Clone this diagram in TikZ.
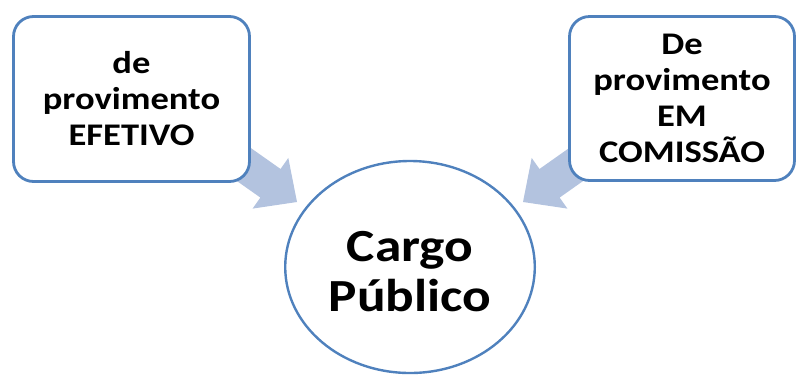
\documentclass[tikz,border=0pt]{standalone}
\usepackage{fontspec}
\setmainfont{Carlito}[FakeStretch=1.16]
\usetikzlibrary{shapes.geometric}
\definecolor{bordblue}{HTML}{4F81BD}
\definecolor{arrowblue}{HTML}{B3C3DF}
\begin{document}
\begin{tikzpicture}[x=1pt,y=-1pt,
  boxstyle/.style={draw=bordblue, line width=2.8pt, fill=white, rounded corners=20pt,
    align=center, font=\fontsize{31.5}{36}\selectfont\bfseries, inner sep=0pt},
  circstyle/.style={draw=bordblue, line width=2.4pt, fill=white, ellipse, align=center,
    font=\fontsize{46}{50}\selectfont\bfseries, inner sep=0pt},
  arrowstyle/.style={fill=arrowblue}]
\useasboundingbox (0,0) rectangle (797,376);
% arrows (behind the boxes)
\coordinate (ltip) at (297,202);
\coordinate (rtip) at (523,202);
\fill[arrowstyle, shift={(ltip)}, rotate=-35.2]
  (0,0) -- (-32.5,31) -- (-32.5,17.5) -- (-110,17.5) -- (-110,-17.5)
  -- (-32.5,-17.5) -- (-32.5,-31) -- cycle;
\fill[arrowstyle, shift={(rtip)}, rotate=35.2]
  (0,0) -- (32.5,31) -- (32.5,17.5) -- (110,17.5) -- (110,-17.5)
  -- (32.5,-17.5) -- (32.5,-31) -- cycle;
% boxes
\node[boxstyle, minimum width=236pt, minimum height=165pt] (efetivo) at (131.5,99)
  {de\\provimento\\EFETIVO};
\node[boxstyle, minimum width=225pt, minimum height=164pt] (comissao) at (682,98.5)
  {De\\provimento\\EM\\COMISSÃO};
% circle
\node[circstyle, minimum width=249.6pt, minimum height=212pt] (cargo) at (410,267)
  {\rule{0pt}{40pt}Cargo\\Público};
\end{tikzpicture}
\end{document}
